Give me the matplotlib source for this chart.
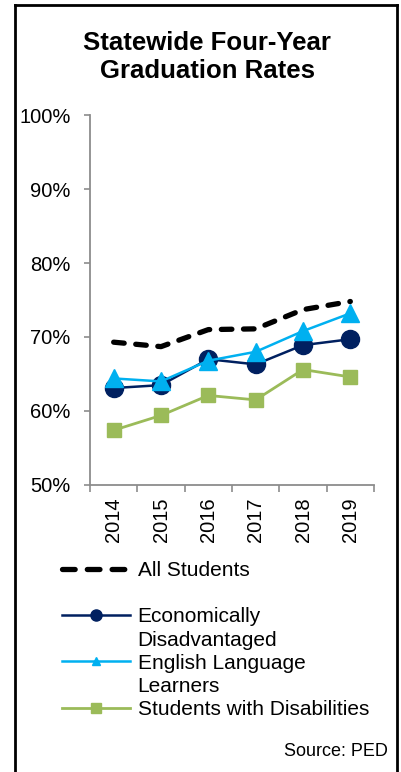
import matplotlib
matplotlib.use("Agg")
import matplotlib.pyplot as plt
from matplotlib.lines import Line2D
from matplotlib.ticker import PercentFormatter

plt.rcParams['font.family'] = ['Liberation Sans', 'DejaVu Sans']

# data
years = ["2014", "2015", "2016", "2017", "2018", "2019"]
all_students = [69.3, 68.7, 71.0, 71.1, 73.7, 74.8]
econ_disadv = [63.1, 63.5, 67.0, 66.3, 68.9, 69.7]
ell = [64.4, 64.0, 66.8, 68.0, 70.8, 73.2]
swd = [57.4, 59.4, 62.1, 61.5, 65.6, 64.6]

NAVY = "#002060"
LBLUE = "#00B0F0"
GREEN = "#9BBB59"
GRAY = "#8C8C8C"

W, H = 401, 772
fig = plt.figure(figsize=(W/100, H/100), dpi=100)
ax = fig.add_axes([90/W, 1-485/H, (374-90)/W, (485-115)/H])

x = list(range(len(years)))
ax.plot(x, all_students, color="black", lw=3.8, dashes=(2.0, 2.2),
        dash_capstyle="round", zorder=2)
ax.plot(x, econ_disadv, color=NAVY, lw=1.8, marker="o", ms=13, zorder=3)
ax.plot(x, ell, color=LBLUE, lw=1.8, marker="^", ms=13, zorder=4)
ax.plot(x, swd, color=GREEN, lw=2.0, marker="s", ms=10.5, zorder=3)

ax.set_ylim(50, 100)
ax.set_yticks([50, 60, 70, 80, 90, 100])
ax.yaxis.set_major_formatter(PercentFormatter(decimals=0))
ax.set_xlim(-0.5, len(years)-0.5)
ax.set_xticks([i-0.5 for i in range(len(years)+1)])
ax.set_xticklabels([])
ax.set_xticks(x, minor=True)
ax.set_xticklabels(years, minor=True, rotation=90)
ax.tick_params(axis="x", which="minor", length=0, pad=9, labelsize=14.5)
ax.tick_params(axis="x", which="major", length=5, width=1.2, color=GRAY)
ax.tick_params(axis="y", length=4, width=1.2, color=GRAY, pad=10, labelsize=14.5)
for s in ["top", "right"]:
    ax.spines[s].set_visible(False)
for s in ["left", "bottom"]:
    ax.spines[s].set_color(GRAY)
    ax.spines[s].set_linewidth(1.3)

fig.text(207/W, 1-57/H, "Statewide Four-Year\nGraduation Rates", ha="center",
         va="center", fontsize=18.5, fontweight="bold", linespacing=1.2)

# legend (Excel style: handle sits on the first line of a wrapped label)
blank = Line2D([], [], color="none")
handles = [
    Line2D([], [], color="black", lw=3.8, dashes=(2.4, 2.3), dash_capstyle="round"),
    blank,
    Line2D([], [], color=NAVY, lw=1.8, marker="o", ms=8),
    blank,
    Line2D([], [], color=LBLUE, lw=1.8, marker="^", ms=6),
    blank,
    Line2D([], [], color=GREEN, lw=2.0, marker="s", ms=7),
]
labels = ["All Students", " ", "Economically", "Disadvantaged",
          "English Language", "Learners", "Students with Disabilities"]
fig.legend(handles, labels, loc="upper left", bbox_to_anchor=(62/W, 1-561/H),
           frameon=False, borderpad=0, borderaxespad=0, fontsize=15,
           handlelength=3.25, handletextpad=0.38, labelspacing=0.2)

fig.text(388/W, 1-752/H, "Source: PED", ha="right", va="center", fontsize=13)

# outer frame
fw = 2.0
fig.add_artist(Line2D([15/W, 15/W], [0, 1-5/H], color="black", lw=fw, transform=fig.transFigure))
fig.add_artist(Line2D([15/W, 397/W], [1-5/H, 1-5/H], color="black", lw=fw, transform=fig.transFigure))
fig.add_artist(Line2D([397/W, 397/W], [0, 1-5/H], color="black", lw=fw, transform=fig.transFigure))

fig.savefig("out.png", dpi=100)
